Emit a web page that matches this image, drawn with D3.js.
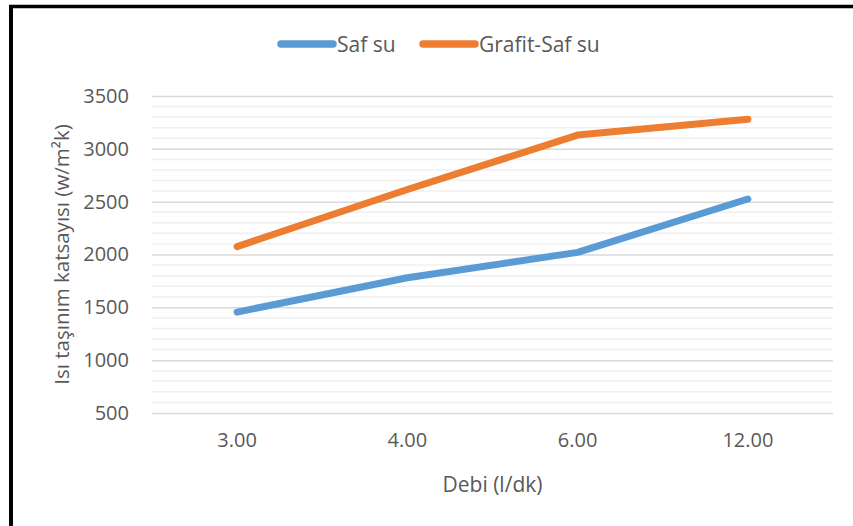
<!DOCTYPE html>
<html>
<head>
<meta charset="utf-8">
<script src="https://cdn.jsdelivr.net/npm/d3@7"></script>
<style>
  html, body { margin: 0; padding: 0; background: #fff; }
  svg { display: block; }
  text { font-family: "Open Sans", "Noto Sans", sans-serif; fill: #595959; }
</style>
</head>
<body>
<svg id="chart" width="853" height="526"></svg>
<script>
const categories = ["3.00", "4.00", "6.00", "12.00"];
const safSu = [1455, 1780, 2020, 2525];
const grafitSafSu = [2075, 2615, 3130, 3280];
const seriesNames = ["Saf su", "Grafit-Saf su"];
const yTicks = [500, 1000, 1500, 2000, 2500, 3000, 3500];
const yMinor = d3.range(500, 3501, 100);
const colors = ["#5B9BD5", "#ED7D31"];
const xTitle = "Debi (l/dk)";
const yTitle = "Isı taşınım katsayısı (w/m²k)";

const svg = d3.select("#chart");
const W = 853, H = 526;
const plot = { left: 152, right: 833, top: 96, bottom: 413 };

svg.append("rect").attr("width", W).attr("height", H).attr("fill", "#fff");

// outer frame (top and left visible)
svg.append("line").attr("x1", 9).attr("x2", W).attr("y1", 6.5).attr("y2", 6.5)
  .attr("stroke", "#000").attr("stroke-width", 3.5);
svg.append("line").attr("x1", 11).attr("x2", 11).attr("y1", 5).attr("y2", H)
  .attr("stroke", "#000").attr("stroke-width", 4);

const x = d3.scaleBand().domain(categories).range([plot.left, plot.right]).padding(0);
const y = d3.scaleLinear().domain([500, 3500]).range([plot.bottom, plot.top]);

// minor gridlines
svg.append("g").selectAll("line").data(yMinor.filter(v => v % 500 !== 0)).join("line")
  .attr("x1", plot.left).attr("x2", plot.right)
  .attr("y1", d => y(d)).attr("y2", d => y(d))
  .attr("stroke", "#F0F0F0").attr("stroke-width", 1.5);

// major gridlines via axis
const yAxis = d3.axisLeft(y).tickValues(yTicks).tickFormat(d3.format("d"))
  .tickSize(-(plot.right - plot.left)).tickPadding(23);
const gy = svg.append("g").attr("transform", `translate(${plot.left},0)`).call(yAxis);
gy.select(".domain").remove();
gy.selectAll(".tick line").attr("stroke", "#D9D9D9").attr("stroke-width", 1.5);
gy.selectAll(".tick text").attr("font-size", 20).attr("fill", "#595959")
  .style("font-family", '"Open Sans", sans-serif');

// x axis labels
const xAxis = d3.axisBottom(x).tickSize(0).tickPadding(20);
const gx = svg.append("g").attr("transform", `translate(0,${plot.bottom})`).call(xAxis);
gx.select(".domain").remove();
gx.selectAll(".tick text").attr("font-size", 20).attr("fill", "#595959")
  .style("font-family", '"Open Sans", sans-serif');

// lines
const line = d3.line().x((d, i) => x(categories[i]) + x.bandwidth() / 2).y(d => y(d));
[safSu, grafitSafSu].forEach((s, k) => {
  svg.append("path").datum(s).attr("d", line)
    .attr("fill", "none").attr("stroke", colors[k]).attr("stroke-width", 7)
    .attr("stroke-linecap", "round").attr("stroke-linejoin", "round");
});

// axis titles
svg.append("text").attr("x", (plot.left + plot.right) / 2).attr("y", 492)
  .attr("text-anchor", "middle").attr("font-size", 21).text(xTitle);
svg.append("text").attr("transform", `translate(69,${(plot.top + plot.bottom) / 2}) rotate(-90)`)
  .attr("text-anchor", "middle").attr("font-size", 20.5).text(yTitle);

// legend
const legendItems = [
  { name: seriesNames[0], x1: 281, x2: 333, tx: 337 },
  { name: seriesNames[1], x1: 423, x2: 475, tx: 479 }
];
const lg = svg.append("g");
legendItems.forEach((it, k) => {
  lg.append("line").attr("x1", it.x1).attr("x2", it.x2).attr("y1", 44).attr("y2", 44)
    .attr("stroke", colors[k]).attr("stroke-width", 7.5).attr("stroke-linecap", "round");
  lg.append("text").attr("x", it.tx).attr("y", 51.5).attr("font-size", 21).text(it.name);
});
</script>
</body>
</html>
